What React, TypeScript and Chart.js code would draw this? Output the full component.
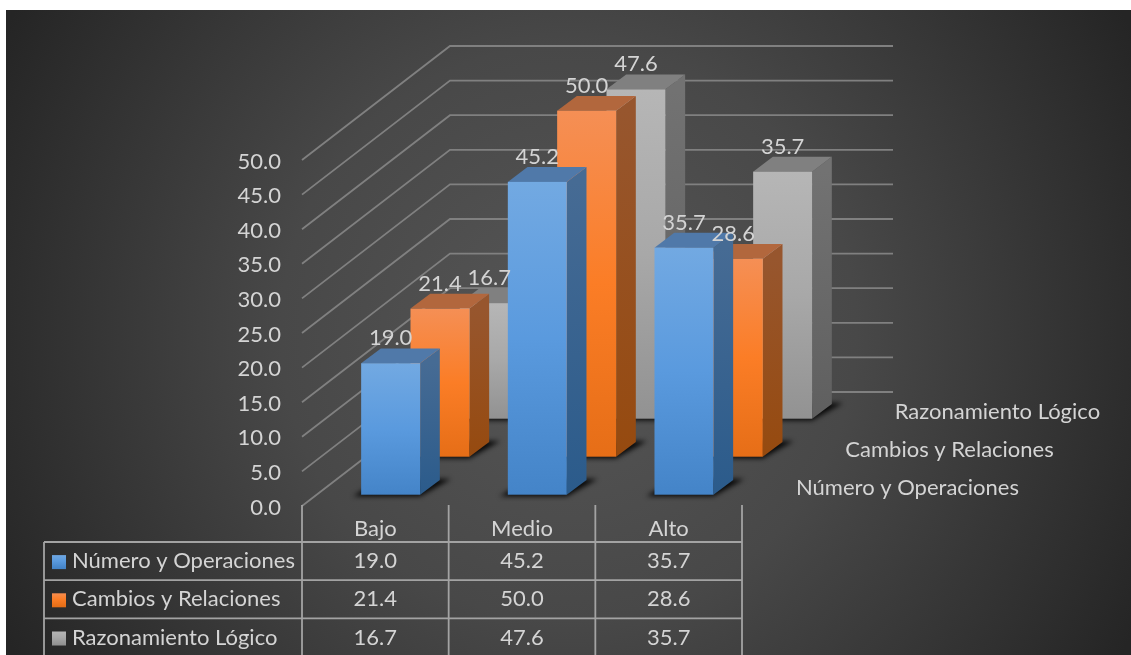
import React, { useEffect, useRef } from "react";
import { Chart, registerables } from "chart.js";

Chart.register(...registerables);

const categories = ["Bajo", "Medio", "Alto"];
const seriesNames = ["Número y Operaciones", "Cambios y Relaciones", "Razonamiento Lógico"];
const numeroOperaciones = [19.0, 45.2, 35.7];
const cambiosRelaciones = [21.4, 50.0, 28.6];
const razonamientoLogico = [16.7, 47.6, 35.7];
const seriesValues = [numeroOperaciones, cambiosRelaciones, razonamientoLogico];

const TEXT = "#d4d4d4";
const FONT_FAMILY = "Lato";
const FONT_SIZE = 22;
const FONT = `${FONT_SIZE}px ${FONT_FAMILY}`;

// Projection of the 3D view
const WALL_DX = 148;
const WALL_DY = -114;
const ROW_DX = WALL_DX / 3;
const ROW_DY = WALL_DY / 3;
const BAR_DX = 19.7;
const BAR_DY = -14.8;
const FRONT_GAP_DX = 15.3;
const FRONT_GAP_DY = -11.3;

const palettes = [
  { base: "#5b9bd5", stops: ["#72a9e2", "#5a9ade", "#4484c8"], side: ["#466b94", "#2b5b8b"], top: "#5079a9" },
  { base: "#ed7d31", stops: ["#f58f55", "#fb7d26", "#e66e17"], side: ["#97562e", "#964a0f"], top: "#b2673d" },
  { base: "#a5a5a5", stops: ["#b6b6b6", "#a8a8a8", "#929292"], side: ["#727272", "#5f5f5f"], top: "#808080" },
];

const poly = (ctx: CanvasRenderingContext2D, pts: number[][]) => {
  ctx.beginPath();
  pts.forEach((p, i) => (i ? ctx.lineTo(p[0], p[1]) : ctx.moveTo(p[0], p[1])));
  ctx.closePath();
};

const vGrad = (ctx: CanvasRenderingContext2D, y0: number, y1: number, stops: string[]) => {
  const g = ctx.createLinearGradient(0, y0, 0, y1);
  stops.forEach((c, i) => g.addColorStop(i / (stops.length - 1), c));
  return g;
};

const barOrigin = (row: number) => ({
  dx: FRONT_GAP_DX + ROW_DX * row,
  dy: FRONT_GAP_DY + ROW_DY * row,
});

const background3D = {
  id: "background3D",
  beforeDraw(chart: any) {
    const { ctx, width, height } = chart;
    ctx.save();
    ctx.fillStyle = "#ffffff";
    ctx.fillRect(0, 0, width, height);
    const cx = 6 + (width - 6) / 2;
    const cy = 10 + (height - 10) / 2;
    const g = ctx.createRadialGradient(cx, cy, 0, cx, cy, 640);
    g.addColorStop(0, "#565656");
    g.addColorStop(0.45, "#484848");
    g.addColorStop(1, "#252525");
    ctx.fillStyle = g;
    ctx.fillRect(6, 10, width - 6, height - 10);
    ctx.restore();
  },
  beforeDatasetsDraw(chart: any) {
    const { ctx, chartArea, scales } = chart;
    const { left } = chartArea;
    const width = chartArea.right - left;
    ctx.save();
    ctx.strokeStyle = "#808080";
    ctx.lineWidth = 1.8;
    scales.y.ticks.forEach((t: any) => {
      const y = scales.y.getPixelForValue(t.value);
      ctx.beginPath();
      ctx.moveTo(left, y);
      ctx.lineTo(left + WALL_DX, y + WALL_DY);
      ctx.lineTo(left + WALL_DX + width + 3, y + WALL_DY);
      ctx.stroke();
    });
    ctx.restore();
  },
  beforeDatasetDraw(chart: any, args: any) {
    const { ctx } = chart;
    const row = args.index;
    const pal = palettes[row];
    const { dx, dy } = barOrigin(row);
    args.meta.data.forEach((el: any) => {
      const w = el.width;
      const x0 = el.x - w / 2 + dx;
      const x1 = x0 + w;
      const top = el.y + dy;
      const base = el.base + dy;
      ctx.save();
      // soft contact shadow on the floor
      ctx.filter = "blur(2.5px)";
      ctx.fillStyle = "rgba(0,0,0,0.9)";
      poly(ctx, [
        [x0 - 8, base + 1.5],
        [x1, base + 1.5],
        [x1 + BAR_DX + 11, base + BAR_DY - 1],
        [x0 + BAR_DX, base + BAR_DY - 1],
      ]);
      ctx.fill();
      ctx.filter = "none";
      // right side
      ctx.fillStyle = vGrad(ctx, top, base, pal.side);
      poly(ctx, [
        [x1, top],
        [x1 + BAR_DX, top + BAR_DY],
        [x1 + BAR_DX, base + BAR_DY],
        [x1, base],
      ]);
      ctx.fill();
      // top
      ctx.fillStyle = pal.top;
      poly(ctx, [
        [x0, top],
        [x0 + BAR_DX, top + BAR_DY],
        [x1 + BAR_DX, top + BAR_DY],
        [x1, top],
      ]);
      ctx.fill();
      // front
      ctx.fillStyle = vGrad(ctx, top, base, pal.stops);
      ctx.fillRect(x0, top, w, base - top);
      ctx.restore();
    });
    return false;
  },
  afterDatasetsDraw(chart: any) {
    const { ctx, chartArea, scales } = chart;
    const { left, right, bottom } = chartArea;
    ctx.save();
    ctx.font = FONT;
    ctx.fillStyle = TEXT;
    ctx.textBaseline = "middle";

    // value labels above each prism
    ctx.textAlign = "center";
    [2, 1, 0].forEach((row) => {
      const { dx, dy } = barOrigin(row);
      chart.getDatasetMeta(row).data.forEach((el: any, i: number) => {
        ctx.fillText(seriesValues[row][i].toFixed(1), el.x + dx, el.y + dy - 25);
      });
    });

    // depth axis labels
    ctx.textAlign = "left";
    seriesNames.forEach((name, row) => {
      ctx.fillText(name, right + 54 + ROW_DX * row, bottom - 18 + ROW_DY * row);
    });

    // data table
    const rowTop = bottom + 36;
    const rowH = 38.2;
    const tableLeft = 44;
    const colW = (right - left) / categories.length;
    ctx.strokeStyle = "#a3a3a3";
    ctx.lineWidth = 1.8;
    ctx.beginPath();
    for (let c = 0; c <= categories.length; c++) {
      ctx.moveTo(left + c * colW, bottom - 1);
      ctx.lineTo(left + c * colW, chart.height);
    }
    ctx.moveTo(tableLeft, rowTop);
    ctx.lineTo(tableLeft, chart.height);
    seriesNames.forEach((_, r) => {
      ctx.moveTo(tableLeft, rowTop + r * rowH);
      ctx.lineTo(right, rowTop + r * rowH);
    });
    ctx.stroke();

    seriesNames.forEach((name, r) => {
      const cy = rowTop + (r + 0.5) * rowH;
      ctx.fillStyle = vGrad(ctx, cy - 7, cy + 7, palettes[r].stops);
      ctx.fillRect(52, cy - 6, 14, 14);
      ctx.fillStyle = TEXT;
      ctx.textAlign = "left";
      ctx.fillText(name, 72, cy);
      ctx.textAlign = "center";
      categories.forEach((_, c) => {
        ctx.fillText(seriesValues[r][c].toFixed(1), scales.x.getPixelForValue(c), cy);
      });
    });
    ctx.restore();
  },
};

export default function App() {
  const ref = useRef<HTMLCanvasElement>(null);
  useEffect(() => {
    if (!ref.current) return;
    const tickFont = { family: FONT_FAMILY, size: FONT_SIZE };
    const chart = new Chart(ref.current, {
      type: "bar",
      data: {
        labels: categories,
        datasets: seriesNames.map((name, i) => ({
          label: name,
          data: seriesValues[i],
          backgroundColor: palettes[i].base,
          grouped: false,
          barPercentage: 0.402,
          categoryPercentage: 1,
        })),
      },
      plugins: [background3D],
      options: {
        animation: false,
        responsive: false,
        devicePixelRatio: 1,
        layout: { padding: { left: 0, right: 389, top: 160, bottom: 0 } },
        plugins: { legend: { display: false }, title: { display: false }, tooltip: { enabled: false } },
        scales: {
          x: {
            afterFit: (s: any) => {
              s.height = 149;
            },
            grid: { display: false, drawTicks: false },
            border: { display: false },
            ticks: { color: TEXT, font: tickFont, padding: 10, maxRotation: 0 },
          },
          y: {
            min: 0,
            max: 50,
            afterFit: (s: any) => {
              s.width = 302;
            },
            grid: { display: false, drawTicks: false },
            border: { display: false },
            ticks: {
              color: TEXT,
              font: tickFont,
              padding: 21,
              labelOffset: 1.5,
              stepSize: 5,
              callback: (v: any) => Number(v).toFixed(1),
            },
          },
        },
      } as any,
    });
    return () => chart.destroy();
  }, []);
  return (
    <canvas
      ref={ref}
      width={1131}
      height={655}
      style={{ position: "absolute", left: 0, top: 0, display: "block", width: 1131, height: 655 }}
    />
  );
}
